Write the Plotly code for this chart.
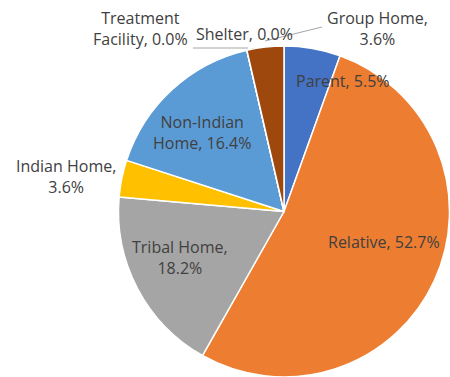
import plotly.graph_objects as go

categories = ["Parent", "Relative", "Tribal Home", "Indian Home", "Non-Indian Home",
              "Treatment Facility", "Shelter", "Group Home"]
values = [5.5, 52.7, 18.2, 3.6, 16.4, 0.0, 0.0, 3.6]
colors = ["#4472C4", "#ED7D31", "#A5A5A5", "#FFC000", "#5B9BD5", "#70AD47", "#264478", "#9E480E"]

# label text and pixel positions (center) for each slice label
label_text = ["Parent, 5.5%", "Relative, 52.7%", "Tribal Home,<br>18.2%", "Indian Home,<br>3.6%",
              "Non-Indian<br>Home, 16.4%", "Treatment<br>Facility, 0.0%", "Shelter, 0.0%",
              "Group Home,<br>3.6%"]
label_px = [(343, 81), (384, 242), (180, 257), (66, 177), (202, 132), (140, 28), (245, 34), (377, 29)]

W, H = 450, 377
FONT = "Open Sans"

fig = go.Figure(go.Pie(
    labels=categories, values=values, sort=False, direction="clockwise", rotation=0,
    marker=dict(colors=colors, line=dict(color="white", width=1.5)),
    textinfo="none", hoverinfo="label+percent", showlegend=False,
    domain=dict(x=[118 / W, 1.0], y=[0.0, 331 / H]),
))

for t, (px, py) in zip(label_text, label_px):
    fig.add_annotation(x=px / W, y=1 - py / H, xref="paper", yref="paper", text=t,
                       showarrow=False, xanchor="center", yanchor="middle",
                       font=dict(family=FONT, size=16, color="#404040"), align="center")

# leader lines
leaders = [((193, 48), (248, 48)), ((265, 41), (322, 27))]
for (x0, y0), (x1, y1) in leaders:
    fig.add_shape(type="line", xref="paper", yref="paper",
                  x0=x0 / W, y0=1 - y0 / H, x1=x1 / W, y1=1 - y1 / H,
                  line=dict(color="#A6A6A6", width=1))

fig.update_layout(width=W, height=H, margin=dict(l=0, r=0, t=0, b=0),
                  paper_bgcolor="white", plot_bgcolor="white")
fig.write_html("out.html")
